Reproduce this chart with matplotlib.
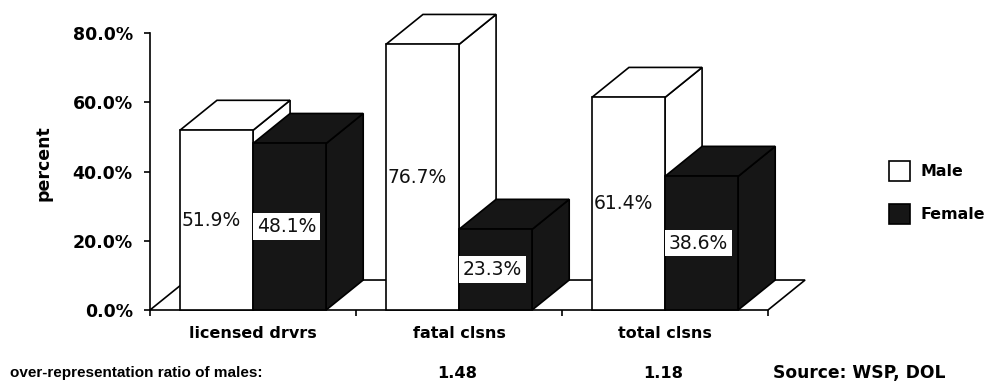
import matplotlib
matplotlib.use("Agg")
import matplotlib.pyplot as plt
from matplotlib.patches import Polygon, Patch
from matplotlib.transforms import blended_transform_factory, offset_copy

# ---- data -------------------------------------------------------------
categories = ["licensed drvrs", "fatal clsns", "total clsns"]
male = [51.9, 76.7, 61.4]
female = [48.1, 23.3, 38.6]
ratio_labels = ["", "1.48", "1.18"]
yticks = [0, 20, 40, 60, 80]

# ---- style ------------------------------------------------------------
BAR_W = 0.355          # width of one bar in category units
DEPTH_X = 0.18         # oblique depth, category units
DEPTH_Y = 8.66         # oblique depth, percent units
DARK = "#161616"
LW = 1.2

W, H, DPI = 987, 383, 100
fig = plt.figure(figsize=(W / DPI, H / DPI), dpi=DPI)
fig.patch.set_facecolor("white")

ax = fig.add_axes([150 / W, 1 - 310 / H, 618 / W, 277 / H])
ax.set_xlim(-0.5, 2.5)
ax.set_ylim(0, 80)
for side in ("top", "right", "bottom"):
    ax.spines[side].set_visible(False)
ax.spines["left"].set_linewidth(LW)
ax.spines["left"].set_zorder(10)


def box3d(x0, x1, h, face, z):
    """Front, top and right-side faces of an oblique 3-D bar."""
    side = [(x1, 0), (x1 + DEPTH_X, DEPTH_Y), (x1 + DEPTH_X, h + DEPTH_Y), (x1, h)]
    top = [(x0, h), (x1, h), (x1 + DEPTH_X, h + DEPTH_Y), (x0 + DEPTH_X, h + DEPTH_Y)]
    front = [(x0, 0), (x1, 0), (x1, h), (x0, h)]
    for k, pts in enumerate((side, top, front)):
        ax.add_patch(Polygon(pts, closed=True, facecolor=face, edgecolor="black",
                             linewidth=LW, joinstyle="miter", clip_on=False,
                             zorder=z + k * 0.01))


# floor
n = len(categories)
floor = [(-0.5, 0), (n - 0.5, 0), (n - 0.5 + DEPTH_X, DEPTH_Y), (-0.5 + DEPTH_X, DEPTH_Y)]
ax.add_patch(Polygon(floor, closed=True, facecolor="white", edgecolor="black",
                     linewidth=LW, clip_on=False, zorder=1))

male_tf = offset_copy(ax.transData, fig=fig, x=2, y=0, units="dots")
female_tf = offset_copy(ax.transData, fig=fig, x=4, y=0, units="dots")
for i, (m, f) in enumerate(zip(male, female)):
    box3d(i - BAR_W, i, m, "white", 2 + i)
    box3d(i, i + BAR_W, f, DARK, 2.5 + i)
    ax.text(i - BAR_W, m / 2, f"{m:.1f}%", transform=male_tf, ha="left",
            va="center", fontsize=13.5, color="#111111", zorder=2.2 + i)
    ax.text(i, f / 2, f"{f:.1f}%", transform=female_tf, ha="left",
            va="center", fontsize=13.5, color="#111111", zorder=2.7 + i,
            bbox=dict(boxstyle="square,pad=0.2", fc="white", ec="none"))

# y axis
ax.set_yticks(yticks)
ax.set_yticklabels([f"{t:.1f}%" for t in yticks])
ax.tick_params(axis="y", direction="out", length=4, width=LW, pad=8.5,
               labelsize=12.5)
for lab in ax.get_yticklabels():
    lab.set_fontweight("bold")
ax.set_ylabel("percent", fontsize=12.5, fontweight="bold")
ax.yaxis.set_label_coords(-0.158, 0.53)

# x axis: labels at centres, tick marks at boundaries
ax.set_xticks(range(n))
ax.set_xticklabels(categories, fontsize=11.5, fontweight="bold")
ax.set_xticks([k - 0.5 for k in range(n + 1)], minor=True)
ax.tick_params(axis="x", which="major", length=0, pad=11.5)
ax.tick_params(axis="x", which="minor", direction="out", length=4, width=LW)

# legend
handles = [Patch(facecolor="white", edgecolor="black", linewidth=1.2, label="Male"),
           Patch(facecolor=DARK, edgecolor="black", linewidth=1.2, label="Female")]
fig.legend(handles=handles, loc="upper left",
           bbox_to_anchor=(889 / W, 1 - 161 / H), frameon=False,
           prop=dict(family="DejaVu Sans", weight="bold", size=11.4),
           handlelength=1.3, handleheight=1.55, handletextpad=0.7,
           labelspacing=1.45, borderpad=0, borderaxespad=0)

# bottom row
y_row = 1 - 373 / H
fig.text(10 / W, y_row, "over-representation ratio of males:",
         ha="left", va="center", fontsize=11, fontweight="bold",
         family="Liberation Sans")
row_tf = blended_transform_factory(ax.transData, fig.transFigure)
for i, r in enumerate(ratio_labels):
    if r:
        ax.text(i - 0.01, y_row, r, transform=row_tf, ha="center", va="center",
                fontsize=11.7, fontweight="bold", clip_on=False)
fig.text(773 / W, y_row, "Source: WSP, DOL", ha="left", va="center",
         fontsize=12.3, fontweight="bold")

fig.savefig("out.png", dpi=DPI, facecolor="white")
